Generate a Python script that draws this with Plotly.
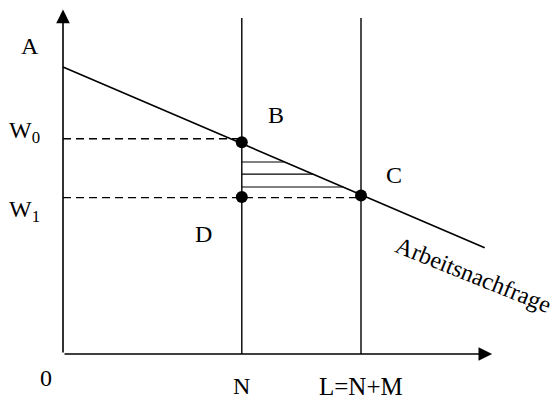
import plotly.graph_objects as go

# ---- data (model units) ----
A_intercept = 10.0          # demand at zero employment
demand_slope = 0.445        # fall of wage per unit labour
N_level = 6.0               # employment N
L_level = 10.0              # employment L = N + M
demand_x = [0.0, 14.15]     # extent of demand curve
W0_level = 7.5              # dashed wage line W0
W1_level = 5.45             # dashed wage line W1
point_names = ["B", "D", "C"]
point_x = [6.0, 6.0, 10.0]
point_y = [7.38, 5.47, 5.52]
hatch_y = [6.69, 6.27, 5.82]
vline_top = 11.71
x_axis_end = 14.4
y_axis_end = 12.0

FONT = "Liberation Serif"
BLACK = "#000000"
FS = 24

def demand(x):
    return A_intercept - demand_slope * x

def demand_inv(y):
    return (A_intercept - y) / demand_slope

fig = go.Figure()

# vertical lines at N and L
for xv in [N_level, L_level]:
    fig.add_trace(go.Scatter(x=[xv, xv], y=[0, vline_top], mode="lines",
                             line=dict(color=BLACK, width=1.4), hoverinfo="skip"))

# demand curve
fig.add_trace(go.Scatter(x=demand_x, y=[demand(v) for v in demand_x], mode="lines",
                         line=dict(color=BLACK, width=1.6), hoverinfo="skip"))

# dashed wage lines
fig.add_trace(go.Scatter(x=[0, N_level], y=[W0_level, W0_level], mode="lines",
                         line=dict(color=BLACK, width=1.4, dash="8px,5px"), hoverinfo="skip"))
fig.add_trace(go.Scatter(x=[0, L_level], y=[W1_level, W1_level], mode="lines",
                         line=dict(color=BLACK, width=1.4, dash="8px,5px"), hoverinfo="skip"))

# hatching in triangle
for hy in hatch_y:
    fig.add_trace(go.Scatter(x=[N_level, demand_inv(hy)], y=[hy, hy], mode="lines",
                             line=dict(color=BLACK, width=1.2), hoverinfo="skip"))

# points
fig.add_trace(go.Scatter(x=point_x, y=point_y, mode="markers",
                         marker=dict(color=BLACK, size=12), hoverinfo="skip"))

annotations = []
# axes with arrows
annotations.append(dict(x=x_axis_end, y=0, ax=0, ay=0, xref="x", yref="y", axref="x", ayref="y",
                        showarrow=True, arrowhead=2, arrowwidth=1.6, arrowsize=1.7, arrowcolor=BLACK,
                        text="", standoff=0))
annotations.append(dict(x=0, y=y_axis_end, ax=0, ay=0, xref="x", yref="y", axref="x", ayref="y",
                        showarrow=True, arrowhead=2, arrowwidth=1.6, arrowsize=1.7, arrowcolor=BLACK,
                        text="", standoff=0))

def label(text, x, y, angle=0, size=FS):
    annotations.append(dict(x=x, y=y, xref="x", yref="y", text=text, showarrow=False,
                            xanchor="center", yanchor="middle", textangle=angle,
                            font=dict(family=FONT, size=size, color=BLACK)))

label("A", -1.11, 10.73)
label("W<sub>0</sub>", -1.28, 7.75)
label("W<sub>1</sub>", -1.28, 5.0)
label("B", 7.15, 8.32)
label("C", 11.1, 6.24)
label("D", 4.73, 4.18)
label("0", -0.57, -0.84)
label("N", N_level, -1.12)
label("L=N+M", L_level, -1.12, size=25)
label("Arbeitsnachfrage", 13.78, 2.77, angle=22, size=24)

# page body has an 8px margin: figure is 552x394, axes mapped accordingly
fig.update_layout(
    width=552, height=394,
    margin=dict(l=0, r=0, t=0, b=0),
    paper_bgcolor="white", plot_bgcolor="white",
    showlegend=False,
    xaxis=dict(range=[-1.846, 16.678], visible=False, fixedrange=True),
    yaxis=dict(range=[-1.672, 12.056], visible=False, fixedrange=True),
    annotations=annotations,
)

fig.write_html("out.html")
